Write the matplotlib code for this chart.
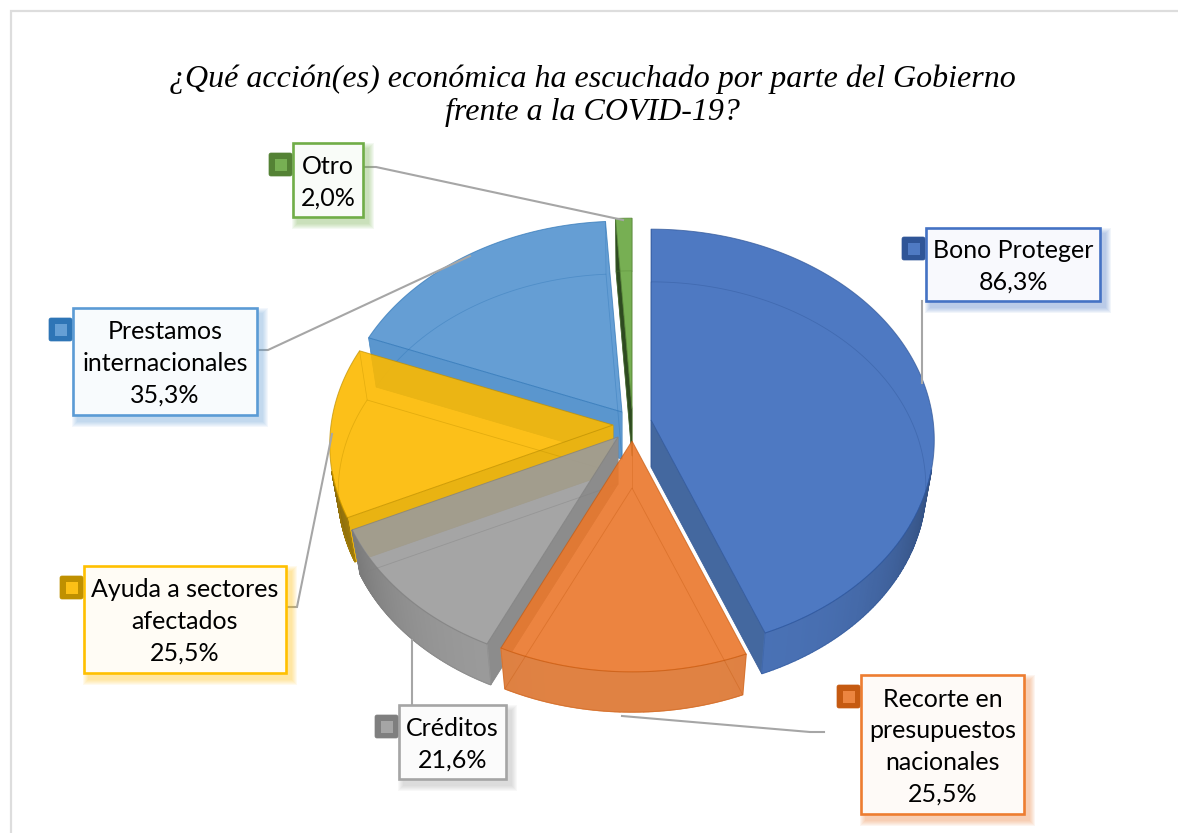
import numpy as np
import matplotlib
matplotlib.use('Agg')
import matplotlib.pyplot as plt
from matplotlib.patches import Polygon, Rectangle, FancyBboxPatch
from matplotlib.colors import to_rgb

title = '¿Qué acción(es) económica ha escuchado por parte del Gobierno\nfrente a la COVID-19?'
categories = ['Bono Proteger', 'Recorte en\npresupuestos\nnacionales', 'Créditos',
              'Ayuda a sectores\nafectados', 'Prestamos\ninternacionales', 'Otro']
values = [86.3, 25.5, 21.6, 25.5, 35.3, 2.0]

face_colors = ['#4F7AC3', '#EC8540', '#A5A5A5', '#FCC016', '#659FD5', '#77AF53']
wall_colors = ['#4A72B6', '#E08243', '#9C9C9C', '#C79A10', '#4F88BE', '#4A7030']
side_colors = ['#44689F', '#E08243', '#8C8C8C', '#E9B312', '#5A96CE', '#2E4A20']
edge_colors = ['#2F5597', '#C55A11', '#7F7F7F', '#BF9000', '#2E75B6', '#548235']
key_colors = ['#2F5597', '#C55A11', '#7F7F7F', '#BF9000', '#2E75B6', '#548235']
box_colors = ['#4472C4', '#ED7D31', '#A5A5A5', '#FFC000', '#5B9BD5', '#70AD47']

# pixel layout: how far each slice is pulled out, label boxes, leader lines
cx, cy = 632, 420
pull_x = [19, 0, -14, -19, -10, 0]
pull_y = [0, 21, 17, 5, -8, -11]
boxes = [(926, 228, 1100, 301), (861, 675, 1024, 814), (399, 705, 506, 779),
         (84, 566, 286, 673), (73, 308, 257, 415), (293, 143, 363, 217)]
leaders = [[(922, 301), (922, 383)],
           [(824, 732), (810, 732), (622, 716)],
           [(412, 705), (412, 640)],
           [(286, 607), (297, 607), (332, 434)],
           [(257, 350), (268, 350), (470, 256)],
           [(363, 167), (376, 167), (623, 220)]]
R, H, K = 282, 209, 0.095
DROP, SHRINK = 47, 0.97
FACE_ALPHA = 0.9


def rim(theta, x0, y0):
    t = np.radians(theta)
    u, v = np.sin(t), np.cos(t)
    w = 1 + K * v
    return x0 + R * u / w, y0 - H * v / w


def low(x, y, x0, y0):
    # same point on the bottom of the slab
    return x0 + SHRINK * (x - x0), y0 + DROP + SHRINK * (y - y0)


def solid(color, alpha):
    # colour that gives the wanted tone over white when drawn with alpha
    c = np.array(to_rgb(color))
    return tuple(np.clip((c - (1 - alpha)) / alpha, 0, 1))


fig = plt.figure(figsize=(11.78, 8.33), dpi=100)
ax = fig.add_axes([0, 0, 1, 1])
ax.set_xlim(0, 1178)
ax.set_ylim(833, 0)
ax.axis('off')

# chart frame, only its top and left sides are in the picture
ax.plot([11, 11, 1178], [833, 11, 11], color='#DDDDDD', lw=1.6, solid_joinstyle='miter')

angles = np.cumsum([0] + values) / sum(values) * 360


def draw_slice(i):
    a0, a1 = angles[i], angles[i + 1]
    x0, y0 = cx + pull_x[i], cy + pull_y[i]
    th = np.linspace(a0, a1, 200)
    xs, ys = rim(th, x0, y0)
    bx, by = low(xs, ys, x0, y0)
    bax, bay = low(x0, y0, x0, y0)

    # side walls that face the viewer
    for end, sign in ((0, -1), (-1, 1)):
        t = np.radians(th[end])
        if sign * (-np.sin(t)) < 0.0:
            ax.add_patch(Polygon([(x0, y0), (xs[end], ys[end]), (bx[end], by[end]), (bax, bay)],
                                 fc=side_colors[i], ec=side_colors[i], lw=0.5, zorder=2))
    # outer wall, front part only, shaded towards the sides
    base = np.array(to_rgb(wall_colors[i]))
    for j in range(len(th) - 1):
        t = np.radians(th[j])
        if np.cos(t) > -0.22:
            continue
        shade = 1.0 - 0.32 * abs(np.sin(t)) ** 4
        c = tuple(np.clip(base * shade, 0, 1))
        ax.add_patch(Polygon([(xs[j], ys[j]), (xs[j + 1], ys[j + 1]), (bx[j + 1], by[j + 1]), (bx[j], by[j])],
                             fc=c, ec=c, lw=1.0, zorder=2))
    # top of the slice
    top = list(zip(xs, ys)) + [(x0, y0)]
    ax.add_patch(Polygon(top, fc=solid(face_colors[i], FACE_ALPHA), alpha=FACE_ALPHA, ec='none', zorder=2))
    ax.add_patch(Polygon(top, fill=False, ec=edge_colors[i], lw=0.7, alpha=0.7, zorder=2))
    # bottom outline seen through the slice
    ax.add_patch(Polygon(list(zip(bx, by)) + [(bax, bay)], fill=False, ec=edge_colors[i], lw=0.6,
                         alpha=0.4, zorder=2))
    ax.plot([x0, bax], [y0, bay], color=edge_colors[i], lw=0.5, alpha=0.4, zorder=2)
    for end in (0, -1):
        ax.plot([xs[end], bx[end]], [ys[end], by[end]], color=edge_colors[i], lw=0.5, alpha=0.4, zorder=2)


for i in [4, 5, 0, 3, 2, 1]:
    draw_slice(i)

# leader lines
for pts in leaders:
    ax.plot([p[0] for p in pts], [p[1] for p in pts], color='#A6A6A6', lw=1.5, zorder=3,
            solid_joinstyle='miter')

# labels
for i, (name, val) in enumerate(zip(categories, values)):
    x0, y0, x1, y1 = boxes[i]
    for d in (6, 5, 4, 3, 2, 1):
        ax.add_patch(Rectangle((x0 + 5 - d, y0 + 6 - d), x1 - x0 + 2 * d, y1 - y0 + 2 * d,
                               fc=box_colors[i], ec='none', alpha=0.07, zorder=4))
    fill = 0.96 * np.array([1, 1, 1]) + 0.04 * np.array(to_rgb(box_colors[i]))
    ax.add_patch(Rectangle((x0, y0), x1 - x0, y1 - y0, fc=tuple(fill), ec=box_colors[i], lw=1.9, zorder=5))
    # legend key on the box's left side
    ky = y0 + 21 if i != 0 else y0 + 20
    ax.add_patch(FancyBboxPatch((x0 - 24, ky - 11), 23, 23, boxstyle='round,pad=0,rounding_size=2',
                                fc=key_colors[i], ec=key_colors[i], lw=0.5, zorder=5))
    ax.add_patch(Rectangle((x0 - 18.5, ky - 5.5), 12, 12, fc=face_colors[i], ec='none', zorder=6))
    label = name + '\n' + f'{val:.1f}'.replace('.', ',') + '%'
    ax.text((x0 + x1) / 2, (y0 + y1) / 2 + 2, label, ha='center', va='center', family='Lato',
            fontsize=18, linespacing=1.45, color='black', zorder=7)

ax.text(592, 96, title, ha='center', va='center', family='Liberation Serif', style='italic',
        fontsize=23, linespacing=1.17, color='black')

fig.savefig('out.png', dpi=100)
